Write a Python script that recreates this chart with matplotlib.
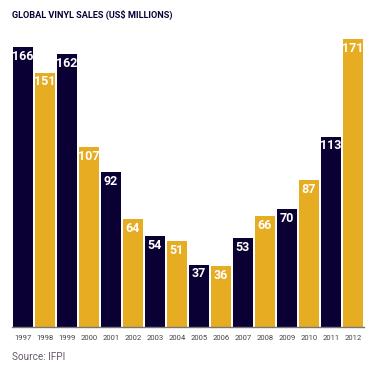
import matplotlib
matplotlib.use("Agg")
import matplotlib.pyplot as plt

years = ["1997", "1998", "1999", "2000", "2001", "2002", "2003", "2004",
         "2005", "2006", "2007", "2008", "2009", "2010", "2011", "2012"]
sales = [166, 151, 162, 107, 92, 64, 54, 51, 37, 36, 53, 66, 70, 87, 113, 171]

NAVY = "#0b0033"
GOLD = "#e6ac22"
colors = [NAVY if i % 2 == 0 else GOLD for i in range(len(years))]

W, H = 378, 366
fig = plt.figure(figsize=(W / 100, H / 100), dpi=100)
ax = fig.add_axes([12 / W, (H - 327) / H, 352 / W, (327 - 39) / H])

x = list(range(len(years)))
ax.bar(x, sales, width=0.91, color=colors, linewidth=0)
ax.set_xlim(-0.5, len(years) - 0.5)
ax.set_ylim(0, 171)

for xi, v in zip(x, sales):
    ax.annotate(str(v), (xi, v), xytext=(0, -2), textcoords="offset points",
                ha="center", va="top", color="white", fontsize=9,
                family="Roboto", fontweight="bold", fontstretch="condensed")

for s in ["top", "right", "left"]:
    ax.spines[s].set_visible(False)
ax.spines["bottom"].set_color("#777777")
ax.spines["bottom"].set_linewidth(1.0)
ax.set_yticks([])
ax.set_xticks(x)
ax.set_xticklabels(years, fontsize=5.5, color="#444444", family="Roboto",
                   fontstretch="condensed")
ax.tick_params(axis="x", length=0, pad=6)

fig.text(12 / W, 1 - 15 / H, "GLOBAL VINYL SALES (US$ MILLIONS)",
         ha="left", va="center", fontsize=6.6, fontweight="bold",
         color=NAVY, family="Roboto", fontstretch="condensed")
fig.text(12 / W, 1 - 357 / H, "Source: IFPI", ha="left", va="center",
         fontsize=7.2, color="#6a5a70", family="Roboto")

fig.savefig("out.png", dpi=100)
